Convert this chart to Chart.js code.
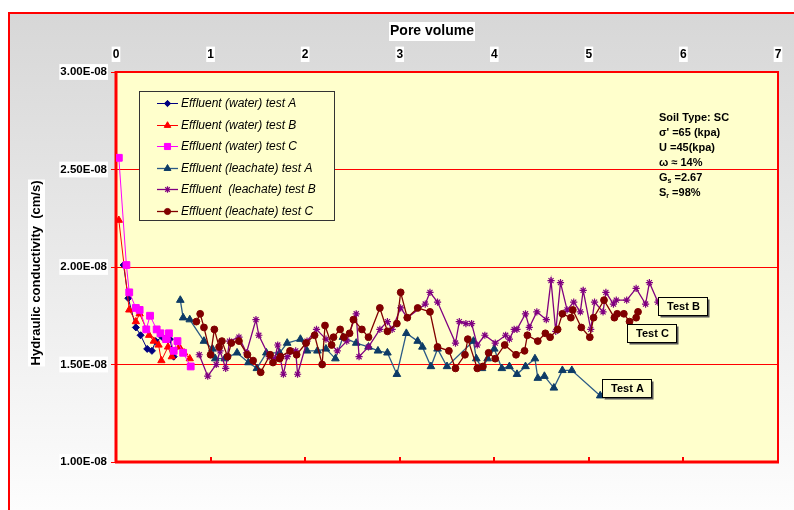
<!DOCTYPE html>
<html><head><meta charset="utf-8">
<script src="https://cdn.jsdelivr.net/npm/chart.js@4/dist/chart.umd.min.js"></script>
<style>html,body{margin:0;padding:0;background:#fff}canvas{display:block}</style>
</head><body>
<canvas id="c" width="794" height="510"></canvas>
<script>
const FONT = '"Liberation Sans", Arial, Helvetica, sans-serif';

// ---- tick labels / axes ----
const xTickValues = [0, 1, 2, 3, 4, 5, 6, 7];
const yTickValues = [1.0, 1.5, 2.0, 2.5, 3.0];   // x 1E-08 cm/s
const Y_UNIT = 1e-8;

// ---- series (x = pore volume, y = hydraulic conductivity x 1E-08 cm/s) ----
const waterA_x = [0.08,0.13,0.21,0.26,0.33,0.38,0.42,0.49,0.54,0.57,0.61];
const waterA_y = [2.01,1.84,1.69,1.65,1.58,1.57,1.62,1.64,1.63,1.63,1.54];

const waterB_x = [0.03,0.14,0.21,0.25,0.35,0.40,0.45,0.48,0.55,0.59,0.67,0.72,0.78];
const waterB_y = [2.24,1.78,1.72,1.76,1.65,1.62,1.60,1.52,1.59,1.54,1.59,1.56,1.53];

const waterC_x = [0.03,0.11,0.14,0.21,0.25,0.32,0.36,0.43,0.47,0.53,0.56,0.61,0.65,0.71,0.79];
const waterC_y = [2.56,2.01,1.87,1.79,1.78,1.68,1.75,1.68,1.66,1.63,1.66,1.57,1.62,1.56,1.49];

const leachA_x = [0.68,0.71,0.78,0.93,1.02,1.05,1.15,1.28,1.40,1.49,1.59,1.73,1.81,1.95,2.02,2.13,2.22,2.32,2.40,2.54,2.67,2.77,2.87,2.97,3.07,3.19,3.24,3.33,3.40,3.50,3.78,3.81,3.87,3.93,4.00,4.08,4.16,4.24,4.33,4.43,4.46,4.53,4.63,4.72,4.82,5.12];
const leachA_y = [1.83,1.74,1.73,1.62,1.58,1.53,1.53,1.56,1.51,1.48,1.56,1.56,1.61,1.63,1.57,1.57,1.58,1.53,1.64,1.61,1.59,1.57,1.56,1.45,1.66,1.62,1.59,1.49,1.58,1.49,1.62,1.53,1.48,1.53,1.58,1.48,1.49,1.45,1.49,1.53,1.43,1.44,1.38,1.47,1.47,1.34];

const leachB_x = [0.88,0.97,1.06,1.10,1.16,1.20,1.30,1.38,1.48,1.51,1.62,1.68,1.71,1.77,1.81,1.90,1.92,2.02,2.12,2.22,2.34,2.44,2.54,2.57,2.67,2.79,2.87,2.92,3.01,3.08,3.27,3.32,3.40,3.59,3.63,3.70,3.76,3.82,3.90,4.01,4.12,4.16,4.21,4.24,4.33,4.37,4.45,4.55,4.60,4.65,4.70,4.77,4.84,4.91,4.94,5.02,5.06,5.15,5.18,5.26,5.29,5.40,5.50,5.60,5.64,5.73];
const leachB_y = [1.55,1.44,1.50,1.57,1.48,1.62,1.64,1.56,1.73,1.65,1.54,1.53,1.60,1.45,1.54,1.57,1.45,1.62,1.68,1.63,1.57,1.62,1.76,1.54,1.59,1.68,1.72,1.68,1.79,1.74,1.81,1.87,1.82,1.61,1.72,1.71,1.71,1.60,1.65,1.61,1.65,1.63,1.68,1.68,1.76,1.69,1.77,1.73,1.93,1.67,1.92,1.78,1.82,1.77,1.88,1.68,1.82,1.77,1.87,1.81,1.83,1.83,1.89,1.81,1.92,1.82];

const leachC_x = [0.85,0.89,0.93,1.00,1.04,1.09,1.12,1.18,1.22,1.30,1.39,1.45,1.53,1.63,1.66,1.73,1.74,1.84,1.91,2.01,2.10,2.18,2.21,2.28,2.30,2.37,2.41,2.47,2.51,2.60,2.67,2.79,2.87,2.97,3.01,3.08,3.19,3.32,3.40,3.52,3.59,3.69,3.72,3.82,3.88,3.94,4.01,4.11,4.23,4.32,4.35,4.46,4.54,4.59,4.67,4.72,4.81,4.83,4.92,5.01,5.05,5.16,5.27,5.30,5.37,5.43,5.50,5.52];
const leachC_y = [1.72,1.76,1.69,1.55,1.68,1.59,1.62,1.54,1.61,1.62,1.55,1.52,1.46,1.55,1.51,1.53,1.54,1.57,1.55,1.61,1.65,1.50,1.70,1.60,1.64,1.68,1.64,1.66,1.73,1.68,1.64,1.79,1.67,1.71,1.87,1.74,1.79,1.77,1.59,1.57,1.48,1.55,1.63,1.48,1.49,1.56,1.53,1.60,1.55,1.57,1.65,1.62,1.66,1.64,1.68,1.76,1.74,1.78,1.69,1.64,1.74,1.83,1.74,1.76,1.76,1.72,1.74,1.77];

const seriesNames = [
  'Effluent (water) test A',
  'Effluent (water) test B',
  'Effluent (water) test C',
  'Effluent (leachate) test A',
  'Effluent  (leachate) test B',
  'Effluent (leachate) test C'
];

// label boxes anchored in data coordinates
const testLabels = ['Test B', 'Test C', 'Test A'];
const testLabelX = [6.00, 5.67, 5.40];
const testLabelY = [1.80, 1.66, 1.38];

const soilLines = ['Soil Type: SC', "\u03C3' =65 (kpa)", 'U =45(kpa)', '\u03C9 \u2248 14%', 'G|s| =2.67', 'S|r| =98%'];

function pts(xs, ys) {
  const n = Math.min(xs.length, ys.length), out = [];
  for (let i = 0; i < n; i++) out.push({x: xs[i], y: ys[i] * Y_UNIT});
  return out;
}

const styles = [
  {line:'#000080', fill:'#000080', pt:'rectRot',  r:3.5, bw:1,   lw:1},
  {line:'#ff0000', fill:'#ff0000', pt:'triangle', r:4.2, bw:1,   lw:1},
  {line:'#ff00ff', fill:'#ff00ff', pt:'rect',     r:4.8, bw:1,   lw:1},
  {line:'#2b5a86', fill:'#0d3b66', pt:'triangle', r:4.4, bw:1,   lw:1.3},
  {line:'#800080', fill:'#800080', pt:'star',     r:3.6, bw:1.2, lw:1.3},
  {line:'#800000', fill:'#800000', pt:'circle',   r:3.4, bw:1,   lw:1.3}
];
const seriesData = [pts(waterA_x, waterA_y), pts(waterB_x, waterB_y), pts(waterC_x, waterC_y),
                    pts(leachA_x, leachA_y), pts(leachB_x, leachB_y), pts(leachC_x, leachC_y)];

const datasets = seriesData.map((d, i) => ({
  label: seriesNames[i],
  data: d,
  showLine: true,
  borderColor: styles[i].line,
  borderWidth: styles[i].lw,
  pointStyle: styles[i].pt,
  pointRadius: styles[i].r,
  pointBackgroundColor: styles[i].fill,
  pointBorderColor: styles[i].fill,
  pointBorderWidth: styles[i].bw,
  tension: 0,
  order: 5 - i
}));

function fmtE(v) {
  const s = v.toExponential(2).split('e');
  const e = parseInt(s[1], 10);
  return s[0] + 'E' + (e < 0 ? '-' : '+') + String(Math.abs(e)).padStart(2, '0');
}

function drawMarker(ctx, st, x, y, scale) {
  ctx.fillStyle = st.fill; ctx.strokeStyle = st.fill; ctx.lineWidth = st.bw;
  if (Chart.helpers && Chart.helpers.drawPoint) {
    Chart.helpers.drawPoint(ctx, {pointStyle: st.pt, radius: st.r * scale, rotation: 0, borderWidth: st.bw}, x, y);
  } else {
    ctx.fillRect(x - 3, y - 3, 6, 6);
  }
}

const decor = {
  id: 'decor',
  beforeDraw(chart) {
    const ctx = chart.ctx, a = chart.chartArea;
    ctx.save();
    ctx.fillStyle = '#ffffff';
    ctx.fillRect(0, 0, chart.width, chart.height);
    const g = ctx.createLinearGradient(0, 13, 0, chart.height);
    g.addColorStop(0, '#d7d7d7');
    g.addColorStop(1, '#fdfdfd');
    ctx.fillStyle = g;
    ctx.fillRect(9, 13, chart.width, chart.height);
    ctx.strokeStyle = '#ff0000'; ctx.lineWidth = 2;
    ctx.strokeRect(9, 13, chart.width + 20, chart.height + 20);
    ctx.fillStyle = '#ffffcc';
    ctx.fillRect(a.left, a.top, a.right - a.left, a.bottom - a.top);
    ctx.restore();
  },
  beforeDatasetsDraw(chart) {
    const ctx = chart.ctx, a = chart.chartArea, xs = chart.scales.x;
    ctx.save();
    ctx.strokeStyle = '#ff0000';
    ctx.lineWidth = 2;
    ctx.strokeRect(a.left, a.top, a.right - a.left, a.bottom - a.top);
    ctx.lineWidth = 3;
    ctx.beginPath(); ctx.moveTo(a.left, a.top - 1); ctx.lineTo(a.left, a.bottom + 1); ctx.stroke();
    ctx.beginPath(); ctx.moveTo(a.left - 1, a.bottom); ctx.lineTo(a.right + 1, a.bottom); ctx.stroke();
    ctx.lineWidth = 2;
    xTickValues.forEach(v => {
      if (v === xTickValues[0] || v === xTickValues[xTickValues.length - 1]) return;
      const px = Math.round(xs.getPixelForValue(v));
      ctx.beginPath(); ctx.moveTo(px, a.bottom); ctx.lineTo(px, a.bottom - 5); ctx.stroke();
    });
    ctx.restore();
  },
  afterDatasetsDraw(chart) {
    const ctx = chart.ctx, a = chart.chartArea, xs = chart.scales.x, ys = chart.scales.y;
    ctx.save();
    // axis titles with white backing
    ctx.font = 'bold 14px ' + FONT;
    ctx.textAlign = 'center'; ctx.textBaseline = 'middle';
    const t1 = 'Pore volume', w1 = ctx.measureText(t1).width;
    const cx1 = 432, cy1 = 31;
    ctx.fillStyle = '#ffffff'; ctx.fillRect(cx1 - w1 / 2 - 1, cy1 - 9, w1 + 2, 19);
    ctx.fillStyle = '#000000'; ctx.fillText(t1, cx1, cy1);

    ctx.save();
    ctx.translate(36, 273); ctx.rotate(-Math.PI / 2);
    ctx.font = 'bold 13px ' + FONT;
    const t2 = 'Hydraulic conductivity  (cm/s)', w2 = ctx.measureText(t2).width;
    ctx.fillStyle = '#ffffff'; ctx.fillRect(-w2 / 2 - 1, -8, w2 + 2, 17);
    ctx.fillStyle = '#000000'; ctx.fillText(t2, 0, 0);
    ctx.restore();

    // legend
    const lx = 139.5, ly = 91.5, lw = 195, lh = 129;
    ctx.fillStyle = '#ffffcc'; ctx.fillRect(lx, ly, lw, lh);
    ctx.strokeStyle = '#333333'; ctx.lineWidth = 1; ctx.strokeRect(lx, ly, lw, lh);
    ctx.font = 'italic 12px ' + FONT;
    ctx.textAlign = 'left'; ctx.textBaseline = 'middle';
    seriesNames.forEach((name, i) => {
      const y = Math.round(103 + i * 21.5) + 0.5;
      const st = styles[i];
      ctx.strokeStyle = st.line; ctx.lineWidth = st.lw;
      ctx.beginPath(); ctx.moveTo(157, y); ctx.lineTo(178, y); ctx.stroke();
      drawMarker(ctx, st, 167.5, y, 0.9);
      ctx.fillStyle = '#000000';
      ctx.fillText(name, 181, y + 0.5);
    });

    // soil properties text
    const SF = 'bold 11px ' + FONT;
    ctx.font = SF;
    ctx.fillStyle = '#000000'; ctx.textAlign = 'left'; ctx.textBaseline = 'middle';
    soilLines.forEach((ln, i) => {
      const y = 118 + i * 15;
      const parts = ln.split('|');
      if (parts.length === 3) {
        let x = 659;
        ctx.font = SF; ctx.fillText(parts[0], x, y); x += ctx.measureText(parts[0]).width;
        ctx.font = 'bold 7px ' + FONT; ctx.fillText(parts[1], x, y + 3); x += ctx.measureText(parts[1]).width;
        ctx.font = SF; ctx.fillText(parts[2], x, y);
      } else {
        ctx.font = SF; ctx.fillText(ln, 659, y);
      }
    });

    // test label boxes
    ctx.font = 'bold 11px ' + FONT;
    ctx.textAlign = 'center'; ctx.textBaseline = 'middle';
    testLabels.forEach((t, i) => {
      const cx = Math.round(xs.getPixelForValue(testLabelX[i]));
      const cy = Math.round(ys.getPixelForValue(testLabelY[i] * Y_UNIT));
      const w = Math.round(ctx.measureText(t).width + 16), h = 18;
      const bx = cx - Math.round(w / 2) + 0.5, by = cy - h / 2 + 0.5;
      ctx.fillStyle = '#555555'; ctx.fillRect(bx + 2, by + 2, w, h);
      ctx.fillStyle = '#ffffcc'; ctx.fillRect(bx, by, w, h);
      ctx.strokeStyle = '#000000'; ctx.lineWidth = 1; ctx.strokeRect(bx, by, w, h);
      ctx.fillStyle = '#000000'; ctx.fillText(t, cx + 0.5, cy + 1);
    });
    ctx.restore();
  }
};

new Chart(document.getElementById('c'), {
  type: 'scatter',
  data: {datasets},
  plugins: [decor],
  options: {
    responsive: false,
    animation: false,
    devicePixelRatio: 1,
    layout: {padding: {left: 0, right: 16, top: 0, bottom: 48}, autoPadding: false},
    plugins: {legend: {display: false}, tooltip: {enabled: false}},
    scales: {
      x: {
        type: 'linear', position: 'top', min: xTickValues[0], max: xTickValues[xTickValues.length - 1],
        afterBuildTicks(s) { s.ticks = xTickValues.map(v => ({value: v})); },
        afterFit(s) { s.height = 72; },
        grid: {display: false, drawTicks: false},
        border: {display: false},
        ticks: {
          font: {family: FONT, size: 12, weight: 'bold'}, color: '#000', padding: 10,
          maxRotation: 0, autoSkip: false,
          showLabelBackdrop: true, backdropColor: '#ffffff', backdropPadding: {top: 1, bottom: 0, left: 1, right: 1}
        }
      },
      y: {
        type: 'linear', min: yTickValues[0] * Y_UNIT, max: yTickValues[yTickValues.length - 1] * Y_UNIT,
        afterBuildTicks(s) { s.ticks = yTickValues.map(v => ({value: v * Y_UNIT})); },
        afterFit(s) { s.width = 116; },
        grid: {color: '#ff0000', lineWidth: 1, tickLength: 5, drawTicks: true},
        border: {display: false},
        ticks: {
          callback: v => fmtE(v),
          font: {family: FONT, size: 11.5, weight: 'bold'}, color: '#000', padding: 4,
          autoSkip: false,
          showLabelBackdrop: true, backdropColor: '#ffffff', backdropPadding: {top: 1, bottom: 1, left: 1, right: 1}
        }
      }
    }
  }
});
</script>
</body></html>
